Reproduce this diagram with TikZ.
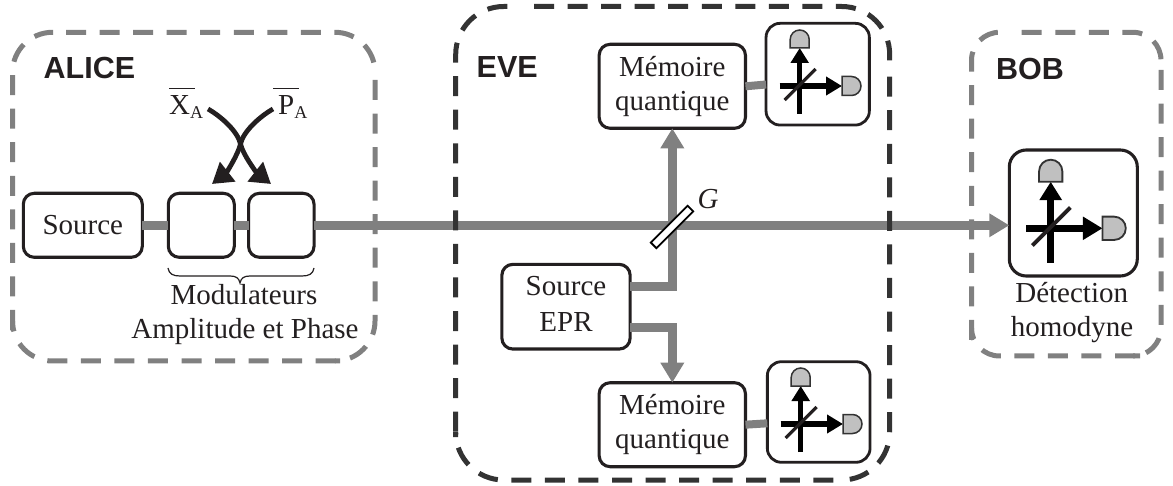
\documentclass[tikz,border=0pt]{standalone}
\usepackage{fontspec}
\setmainfont{Liberation Serif}
\newfontfamily\labfont{Liberation Sans}[Scale=1]
\usetikzlibrary{arrows.meta}
\definecolor{ink}{HTML}{231F20}
\definecolor{beamgray}{HTML}{808080}
\definecolor{evedark}{HTML}{333333}
\definecolor{detgray}{HTML}{C0C0C0}
\tikzset{
  devbox/.style={draw=ink,line width=3.1pt,rounded corners=11pt,fill=white,inner sep=0pt,outer sep=0pt,
     text=ink,align=center,font=\fontsize{29}{34}\selectfont},
  beam/.style={draw=beamgray,line width=8.6pt},
  beamarrow/.style={beam,-{Triangle[length=20pt,width=22.5pt]}},
  zonegray/.style={draw=beamgray,line width=5pt,dash pattern=on 20pt off 13.55pt},
  zonedark/.style={draw=evedark,line width=5pt,dash pattern=on 20pt off 13.55pt},
  caption/.style={text=ink,anchor=base,inner sep=0pt,font=\fontsize{29}{34}\selectfont},
  zonelabel/.style={text=ink,anchor=base west,inner sep=0pt,font=\labfont\bfseries\fontsize{30.5}{34}\selectfont},
  modarrow/.style={draw=ink,line width=4.8pt,-{Triangle[length=20pt,width=24pt]}},
}
\newcommand{\homodetector}[3]{%
  \begin{scope}[shift={(#1,#2)},scale=#3]
    \draw[black,line width=#3*5.4pt,-{Triangle[length=15pt,width=17.5pt,scale=#3]}] (0,28) -- (0,-38);
    \draw[black,line width=#3*5.4pt,-{Triangle[length=16pt,width=18pt,scale=#3]}] (-20,0) -- (42.3,0);
    \draw[ink,line width=#3*3.2pt] (-15,14) -- (16,-17);
    \filldraw[draw=evedark,fill=detgray,line width=#3*1.5pt]
      (-9.5,-38) -- (-9.5,-46.5) arc[start angle=180,end angle=360,radius=9.5] -- (9.5,-38) -- cycle;
    \filldraw[draw=evedark,fill=detgray,line width=#3*1.5pt]
      (42.3,-9.5) -- (51.8,-9.5) arc[start angle=270,end angle=450,radius=9.5] -- (42.3,9.5) -- cycle;
  \end{scope}}
\begin{document}
\begin{tikzpicture}[x=1pt,y=-1pt]
\useasboundingbox (0,0) rectangle (1173,486);
% devices
\node[devbox,minimum width=119pt,minimum height=64pt] (source) at (82.8,225.3) {Source};
\node[devbox,minimum width=66pt,minimum height=64pt] (modA) at (201.3,225.3) {};
\node[devbox,minimum width=65.5pt,minimum height=64pt] (modP) at (281.3,225.3) {};
\node[devbox,minimum width=128.3pt,minimum height=84.7pt] (epr) at (566,306.7) {Source\\[2pt]EPR\rule[-5pt]{0pt}{0pt}};
\node[devbox,minimum width=146.3pt,minimum height=84pt] (memA) at (672.3,86.3) {Mémoire\\quantique};
\node[devbox,minimum width=146.3pt,minimum height=84pt] (memB) at (672.3,424.7) {Mémoire\\quantique};
\node[devbox,line width=2.8pt,rounded corners=14pt,minimum width=103.3pt,minimum height=101.7pt] (detA) at (817.7,74.2) {};
\node[devbox,line width=2.8pt,rounded corners=14pt,minimum width=102.7pt,minimum height=100.6pt] (detB) at (818.7,412) {};
\node[devbox,rounded corners=17pt,minimum width=128pt,minimum height=126pt] (detC) at (1073.3,213) {};
% beams
\draw[beam] (source.east) -- (modA.west);
\draw[beam] (modA.east) -- (modP.west);
\draw[beamarrow] (modP.east) -- (modP.east -| detC.west);
\coordinate (eprUp) at (630,286.7);
\coordinate (eprDown) at (630,327.7);
\draw[beamarrow] (eprUp) -| (memA.south);
\draw[beamarrow] (eprDown) -| (memB.north);
\draw[draw=beamgray,line width=8pt] (memA.east) -- (detA.west |- 0,84.5);
\draw[draw=beamgray,line width=8pt] (memB.east) -- (detB.west |- 0,423.3);
% dashed zones
\begin{scope}[rounded corners=40pt]
\draw[zonegray] (66,32.3) -- (375,32.3) -- (375,73);
\draw[zonegray] (375,80) -- (375,361) -- (340,361);
\draw[zonegray] (335.7,361) -- (12.5,361) -- (12.5,335);
\draw[zonegray] (12.5,330) -- (12.5,32.3) -- (53,32.3);
\end{scope}
\begin{scope}[rounded corners=48pt]
\draw[zonedark] (534,6.5) -- (889.7,6.5) -- (889.7,70);
\draw[zonedark] (889.7,76.7) -- (889.7,480) -- (840,480);
\draw[zonedark] (833.3,480) -- (455.7,480) -- (455.7,437);
\draw[zonedark] (455.7,431.7) -- (455.7,6.5) -- (520,6.5);
\end{scope}
\begin{scope}[rounded corners=28pt]
\draw[zonegray] (1021.7,32.3) -- (1161,32.3) -- (1161,65);
\draw[zonegray] (1161,70) -- (1161,356) -- (1140,356);
\draw[zonegray] (1135,356) -- (971.5,356) -- (971.5,345);
\draw[zonegray] (971.5,340) -- (971.5,32.3) -- (1005,32.3);
\end{scope}
% beam splitter
\node[draw=black,fill=white,line width=1.8pt,inner sep=0pt,minimum width=52pt,minimum height=8pt,rotate=45] (bs) at (672,227) {};
\node[text=ink,inner sep=0pt,font=\itshape\fontsize{29}{34}\selectfont] (gain) at (708,199) {G};
% homodyne detectors
\homodetector{799.7}{86}{1}
\homodetector{800.7}{424}{1}
\homodetector{1050.7}{228.3}{1.225}
% zone labels
\node[zonelabel] (alice) at (43.5,79) {ALICE};
\node[zonelabel] (eve) at (476.5,77.3) {EVE};
\node[zonelabel] (bob) at (996,80) {BOB};
% modulator signals
\node[caption,anchor=base west] (xa) at (169,115) {\rlap{\raisebox{25.5pt}{\rule{26pt}{1pt}}}X\raisebox{-4pt}{\fontsize{18}{18}\selectfont A}};
\node[caption,anchor=base west] (pa) at (278,115) {\rlap{\hspace{-5pt}\raisebox{25.5pt}{\rule{26pt}{1pt}}}P\raisebox{-4pt}{\fontsize{18}{18}\selectfont A}};
\coordinate (xStart) at (208,109);
\coordinate (pStart) at (273,109);
\coordinate (mid) at (240.5,144);
\coordinate (xEnd) at (271,184);
\coordinate (pEnd) at (212,184);
\draw[modarrow] (xStart) .. controls (222,117) and (238,132) .. (mid) .. controls (243,155) and (257,173) .. (xEnd);
\draw[modarrow] (pStart) .. controls (259,117) and (243,132) .. (mid) .. controls (238,155) and (226,173) .. (pEnd);
% brace
\draw[ink,line width=1.2pt] (168,268) .. controls (169,274) and (173,276) .. (180,276) -- (230,276)
  .. controls (236,276) and (239,278) .. (240,283) .. controls (241,278) and (244,276) .. (250,276) -- (302,276)
  .. controls (309,276) and (313,274) .. (314,268);
% captions
\node[caption] (modcap) at (244,305) {Modulateurs};
\node[caption] (ampcap) at (245,339) {Amplitude et Phase};
\node[caption] (detcap) at (1071.7,303) {Détection};
\node[caption] (homcap) at (1072,337) {homodyne};
\end{tikzpicture}
\end{document}
